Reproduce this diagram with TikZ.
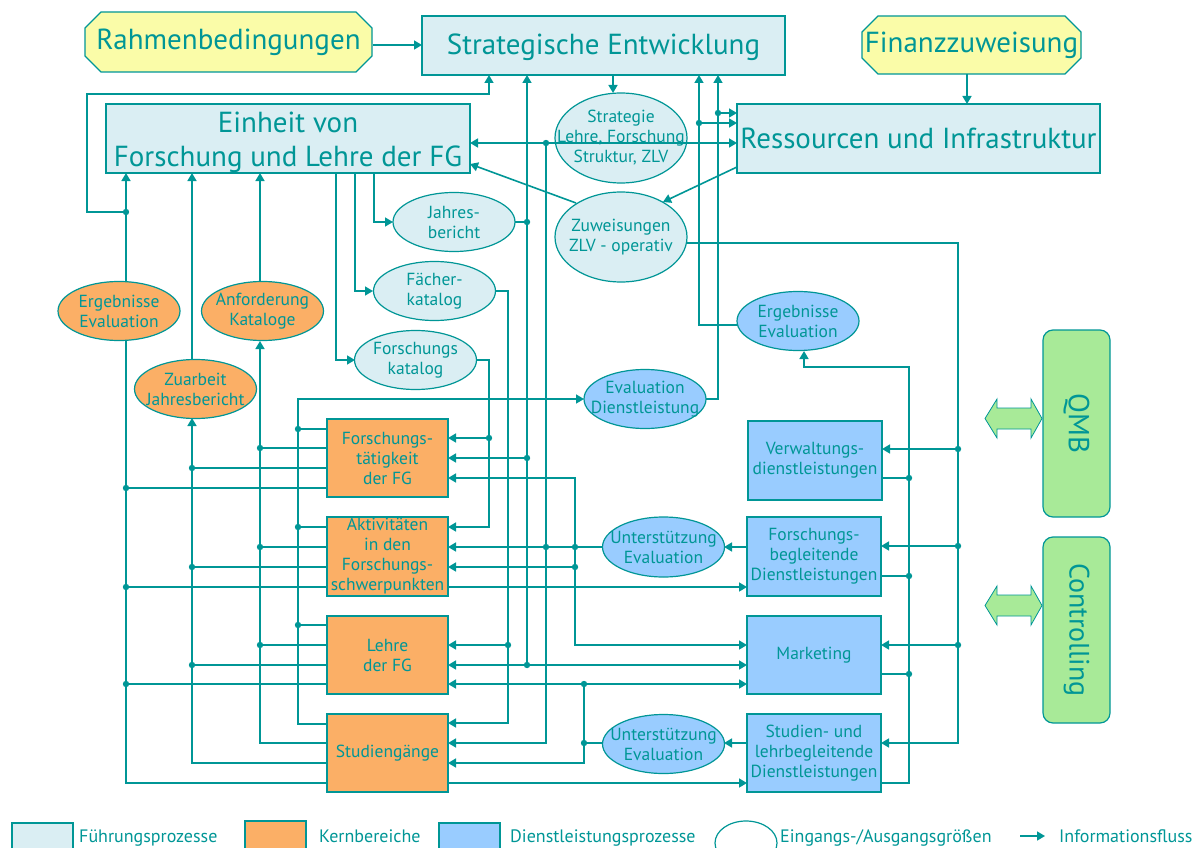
\documentclass[tikz,border=0pt]{standalone}
\usepackage{fontspec}
\setmainfont{PT Sans}
\usetikzlibrary{arrows.meta,shapes.geometric}
\definecolor{lc}{RGB}{0,150,150}
\definecolor{fuehr}{RGB}{218,238,243}
\definecolor{kern}{RGB}{251,175,102}
\definecolor{dienst}{RGB}{153,204,255}
\definecolor{gelb}{RGB}{250,252,168}
\definecolor{gruen}{RGB}{168,234,152}
\newcommand\bigtxt{\fontsize{29}{34}\selectfont}
\newcommand\midtxt{\fontsize{17.5}{20}\selectfont}
\newcommand\legtxt{\fontsize{18}{20}\selectfont}
\newcommand\jd[1]{\fill[lc] #1 circle (3.2pt);}
\begin{document}
\begin{tikzpicture}[x=1pt,y=-1pt,
  every node/.style={text=lc},
  wire/.style={draw=lc,line width=1.6pt},
  flow/.style={wire,-{Triangle[length=8pt,width=9pt]}},
  flowboth/.style={wire,{Triangle[length=8pt,width=9pt]}-{Triangle[length=8pt,width=9pt]}},
  fbox/.style={draw=lc,line width=1.2pt,fill=fuehr,inner sep=0pt,align=center,font=\bigtxt},
  kbox/.style={draw=lc,line width=1.2pt,fill=kern,inner sep=0pt,align=center,font=\midtxt,minimum width=121pt,minimum height=78pt},
  dbox/.style={draw=lc,line width=1.2pt,fill=dienst,inner sep=0pt,align=center,font=\midtxt,minimum width=134pt,minimum height=78pt},
  io/.style={ellipse,draw=lc,line width=1.2pt,inner xsep=-30pt,inner ysep=-20pt,align=center,font=\midtxt,minimum width=122pt,minimum height=59pt},
  gbox/.style={draw=lc,line width=1.2pt,fill=gruen,rounded corners=10pt,inner sep=0pt,rotate=-90,minimum width=187pt,minimum height=67pt},
  garrow/.style={draw=lc,line width=0.8pt,fill=gruen},
  legtext/.style={anchor=base west,font=\legtxt,inner sep=0pt}
]
\useasboundingbox (0,0) rectangle (1196,848);
\clip (0,0) rectangle (1196,848);

% ---------- connectors behind the shapes ----------
% left feedback columns
\draw[flow] (126,282) -- (126,173);
\draw[wire] (126,340) -- (126,783) -- (327,783);
\draw[flow] (126,212) -- (87,212) -- (87,94) -- (489,94) -- (489,75);
\draw[wire] (327,488) -- (126,488);
\draw[wire] (327,587) -- (126,587);
\draw[wire] (327,684) -- (126,684);

\draw[flow] (260,282) -- (260,173);
\draw[flow] (327,743) -- (260,743) -- (260,341);
\draw[wire] (327,448) -- (260,448);
\draw[wire] (327,547) -- (260,547);
\draw[wire] (327,645) -- (260,645);

\draw[flow] (192,360) -- (192,173);
\draw[flow] (327,763) -- (192,763) -- (192,418);
\draw[wire] (327,468) -- (192,468);
\draw[wire] (327,567) -- (192,567);
\draw[wire] (327,665) -- (192,665);

\draw[flow] (327,724) -- (298,724) -- (298,399) -- (584,399);
\draw[wire] (327,429) -- (298,429);
\draw[wire] (327,527) -- (298,527);
\draw[wire] (327,625) -- (298,625);

% from the unit to the reports and catalogues
\draw[flow] (374,173) -- (374,222) -- (393,222);
\draw[flow] (355,173) -- (355,291) -- (373,291);
\draw[flow] (336,173) -- (336,360) -- (355,360);

% central buses
\draw[wire] (515,222) -- (527,222);
\draw[flow] (527,665) -- (527,75);
\draw[flow] (527,458) -- (448,458);
\draw[flowboth] (448,665) -- (747,665);

\draw[flow] (496,291) -- (508,291) -- (508,723) -- (448,723);
\draw[flow] (508,645) -- (448,645);
\draw[flow] (476,360) -- (489,360) -- (489,527) -- (448,527);
\draw[flow] (489,438) -- (448,438);
\draw[flow] (546,143) -- (546,743) -- (448,743);

\draw[flow] (603,547) -- (448,547);
\draw[flow] (747,547) -- (724,547);
\draw[flowboth] (448,478) -- (575,478) -- (575,645) -- (747,645);
\draw[flow] (575,567) -- (448,567);
\draw[flow] (448,587) -- (747,587);

\draw[flowboth] (448,684) -- (747,684);
\draw[flow] (584,684) -- (584,763) -- (448,763);
\draw[wire] (603,743) -- (584,743);
\draw[flow] (747,743) -- (724,743);
\draw[flow] (448,783) -- (747,783);

% right-hand buses
\draw[flow] (737,325) -- (699,325) -- (699,75);
\draw[flow] (699,123) -- (737,123);
\draw[flow] (706,399) -- (718,399) -- (718,75);
\draw[flow] (718,113) -- (737,113);
\draw[flow] (687,243) -- (958,243) -- (958,743) -- (881,743);
\draw[flow] (958,449) -- (882,449);
\draw[flow] (958,546) -- (881,546);
\draw[flow] (958,645) -- (881,645);
\draw[flow] (881,783) -- (909,783) -- (909,367) -- (804,367) -- (804,351);
\draw[wire] (882,478) -- (909,478);
\draw[wire] (881,576) -- (909,576);
\draw[wire] (881,674) -- (909,674);

% top
\draw[flow] (373,45) -- (422,45);
\draw[flow] (967,74) -- (967,104);
\draw[flow] (613,75) -- (613,93);
\draw[flow] (737,167) -- (663,202);
\draw[flow] (576,203) -- (470,164);

% ---------- shapes ----------
\draw[fill=gelb,draw=lc,line width=1.2pt] (101,12) -- (356,12) -- (372,28) -- (372,56) -- (356,72) -- (101,72) -- (85,56) -- (85,28) -- cycle;
\node[inner sep=0pt,minimum width=287pt,minimum height=60pt,font=\bigtxt] (rahmen) at (228.5,42) {Rahmenbedingungen};
\draw[fill=gelb,draw=lc,line width=1.2pt] (878,16) -- (1065,16) -- (1081,32) -- (1081,58) -- (1065,74) -- (878,74) -- (862,58) -- (862,32) -- cycle;
\node[inner sep=0pt,minimum width=219pt,minimum height=58pt,font=\bigtxt] (finanz) at (971.5,45) {Finanzzuweisung};

\node[fbox,minimum width=363pt,minimum height=59pt] (strat) at (603.5,45.5) {\rule{0pt}{24pt}Strategische Entwicklung};
\node[fbox,minimum width=364pt,minimum height=69pt] (einheit) at (288,138.5) {\rule{0pt}{29pt}Einheit von\\Forschung und Lehre der FG};
\node[fbox,minimum width=363pt,minimum height=69pt] (ress) at (918.5,138.5) {Ressourcen und Infrastruktur};

\node[io,fill=fuehr,minimum width=132pt,minimum height=90pt] (strategie) at (621,138) {Strategie\\Lehre, Forschung\\Struktur, ZLV};
\node[io,fill=fuehr,minimum width=132pt,minimum height=90pt] (zuweis) at (621,237) {Zuweisungen\\ZLV - operativ};
\node[io,fill=fuehr] (jahres) at (454,222) {Jahres-\\bericht};
\node[io,fill=fuehr] (faecher) at (434.5,291) {Fächer-\\katalog};
\node[io,fill=fuehr] (fkat) at (415.5,360) {Forschungs\\katalog};

\node[io,fill=kern] (ergor) at (119,311) {Ergebnisse\\Evaluation};
\node[io,fill=kern] (anf) at (262.5,311) {Anforderung\\Kataloge};
\node[io,fill=kern] (zuarb) at (195.5,389) {Zuarbeit\\Jahresbericht};

\node[io,fill=dienst] (evaldl) at (645,399) {Evaluation\\Dienstleistung};
\node[io,fill=dienst] (ergbl) at (798,321) {Ergebnisse\\Evaluation};
\node[io,fill=dienst,minimum height=60pt] (unt1) at (663.5,547) {Unterstützung\\Evaluation};
\node[io,fill=dienst] (unt2) at (663.5,744) {Unterstützung\\Evaluation};

\node[kbox] (ft) at (387.5,458) {Forschungs-\\tätigkeit\\der FG};
\node[kbox,minimum height=79pt] (akt) at (387.5,556.5) {Aktivitäten\\in den\\Forschungs-\\schwerpunkten};
\node[kbox] (lehre) at (387.5,655) {Lehre\\der FG};
\node[kbox] (stud) at (387.5,753) {Studiengänge};

\node[dbox,minimum height=79pt] (verw) at (815,460.5) {Verwaltungs-\\dienstleistungen};
\node[dbox,minimum height=79pt] (fbd) at (814,556.5) {Forschungs-\\begleitende\\Dienstleistungen};
\node[dbox] (mark) at (814,655) {Marketing};
\node[dbox] (sld) at (814,753) {Studien- und\\lehrbegleitende\\Dienstleistungen};

\node[gbox,font=\fontsize{29}{30}\selectfont] (qmb) at (1076.5,423.5) {QMB};
\node[gbox,minimum width=186pt,font=\fontsize{28}{30}\selectfont] (ctrl) at (1076.5,630) {Controlling};
\draw[garrow] (985,418.5) -- (997,399) -- (997,408) -- (1031,408) -- (1031,399) -- (1042,418.5) -- (1031,438) -- (1031,429) -- (997,429) -- (997,438) -- cycle;
\draw[garrow] (985,605.5) -- (997,586) -- (997,595) -- (1031,595) -- (1031,586) -- (1042,605.5) -- (1031,625) -- (1031,616) -- (997,616) -- (997,625) -- cycle;

% line crossing the strategy ellipse
\draw[flowboth] (470,143) -- (737,143);

% ---------- junction dots ----------
\jd{(126,212)}\jd{(126,488)}\jd{(126,587)}\jd{(126,684)}
\jd{(260,448)}\jd{(260,547)}\jd{(260,645)}
\jd{(192,468)}\jd{(192,567)}\jd{(192,665)}
\jd{(298,429)}\jd{(298,527)}\jd{(298,625)}
\jd{(527,222)}\jd{(527,458)}\jd{(527,665)}
\jd{(508,645)}\jd{(489,438)}
\jd{(546,143)}\jd{(546,547)}
\jd{(575,547)}\jd{(575,567)}
\jd{(584,684)}\jd{(584,743)}
\jd{(699,123)}\jd{(718,113)}
\jd{(958,449)}\jd{(958,546)}\jd{(958,645)}
\jd{(909,478)}\jd{(909,576)}\jd{(909,674)}

% ---------- legend ----------
\draw[fill=fuehr,draw=lc,line width=1.2pt] (12,823) rectangle (73,856);
\node[legtext] (lg1) at (79,842) {Führungsprozesse};
\draw[fill=kern,draw=lc,line width=1.2pt] (245,821) rectangle (306,856);
\node[legtext] (lg2) at (319,842) {Kernbereiche};
\draw[fill=dienst,draw=lc,line width=1.2pt] (439,823) rectangle (500,856);
\node[legtext] (lg3) at (510,842) {Dienstleistungsprozesse};
\draw[draw=lc,line width=1.2pt] (746,843) ellipse [x radius=31pt,y radius=22pt];
\node[legtext] (lg4) at (780,842) {Eingangs-/Ausgangsgrößen};
\coordinate (la) at (1020,836);
\coordinate (lb) at (1045,836);
\draw[flow] (la) -- (lb);
\node[legtext] (lg5) at (1059,842) {Informationsfluss};
\end{tikzpicture}
\end{document}
